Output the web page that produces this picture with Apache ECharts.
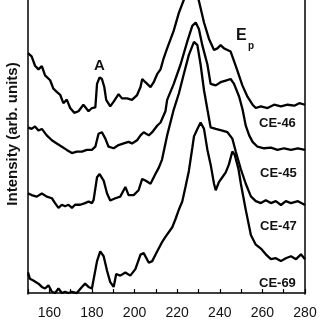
<!DOCTYPE html>
<html><head><meta charset="utf-8">
<script src="https://cdn.jsdelivr.net/npm/echarts@6/dist/echarts.min.js"></script>
<style>html,body{margin:0;padding:0;background:#fff}#c{width:320px;height:320px}</style>
</head><body><div id="c"></div>
<script>
// Wavenumber-like x values and intensities (arb. units) for each spectrum
const ce46 = [[150,248],[151.7,244.7],[153.3,235],[154.9,231.3],[156.5,234.7],[158,225],[160.4,220],[161.9,211.3],[163.5,208],[165.1,205],[166.6,196.3],[168.2,200],[169.8,191.3],[171.7,186.3],[173.7,188],[176,194.7],[178.4,188],[180,191.3],[181.6,192],[182.4,216.3],[183.6,223],[184.7,221.3],[185.8,213],[186.7,199.7],[188.6,193],[190.2,198],[192.5,205.7],[194.1,201.3],[196.5,201.3],[198.8,199.7],[201.2,204.7],[202.8,213],[203.6,221.3],[205.1,218],[207.5,213],[209,218],[210.6,226.3],[212.2,231.3],[213.7,243],[215.3,253],[218.4,271.3],[220.8,289.7],[223.1,303],[226.3,318],[230.1,303],[232.6,279.7],[234.9,263],[237.3,251.3],[238.9,253],[240.4,256.3],[242,253],[243.6,251.3],[245.1,249.7],[246.7,239.7],[248.3,229.7],[250.6,214.7],[253,203],[255.4,194.7],[256.9,191.3],[259.3,193],[262.4,191.3],[265.5,194.7],[268.7,193],[271.8,194.7],[275,193.7],[277.3,196.3],[280,194.7]];
const ce45 = [[150,171.3],[151.7,169.7],[153.3,172.3],[154.9,168],[156.5,169.7],[158.8,163],[161.2,158],[163.5,154.7],[165.9,151.3],[168.2,148],[170.6,144.7],[172.9,146.3],[175.3,146.3],[177.6,148],[180,148],[181.6,151.3],[183.1,164.7],[184.7,166.3],[186.3,159.7],[187.8,151.3],[190.2,149.7],[192.5,153],[194.9,154.7],[197.2,156.3],[198.8,154.7],[201.2,158],[202.8,163],[204.3,166.3],[206.7,163],[208.3,166.3],[210.6,173],[212.2,176.3],[214.5,188],[215.3,199.7],[218.4,216.3],[221.6,236.3],[224.7,259.7],[227.1,276.3],[228.7,279.7],[230.2,273],[231.8,256.3],[234.2,236.3],[235.7,216.3],[238.1,214.7],[240.4,218],[242.8,219.7],[245.1,221.3],[246.7,216.3],[249.1,203],[250.7,189.7],[252.2,173],[253.8,163],[255.4,156.3],[257.7,151.3],[260.8,149.7],[264,150.3],[267.1,148],[270.2,149.7],[273.4,148],[276.6,149.7],[280,148]];
const ce47 = [[150,103],[151.7,101.3],[154.1,99.7],[156.5,103],[158.8,99.7],[161.2,98],[162.7,93],[164.3,88],[165.9,91.3],[167.4,89.7],[169,91.3],[170.6,88],[172.1,91.3],[174.5,91.3],[176.8,93],[178.4,94.7],[180,93],[180.8,96.3],[182.4,119.7],[183.6,123],[185.5,116.3],[187.1,103],[188.6,95.7],[191,98],[193.3,99.7],[195.7,109.7],[197.2,101.3],[199.6,101.3],[201.9,106.3],[203.6,118],[205.1,116.3],[207.5,113],[209.8,123],[211.4,129.7],[212.9,138],[215.3,163],[218.4,189.7],[220.8,206.3],[223.1,226.3],[225.5,246.3],[227.9,259.7],[229.5,256.3],[231,236.3],[232.6,209.7],[234.2,189.7],[235.7,171.3],[238.1,169.7],[241.2,168],[243.6,166.3],[245.9,159.7],[247.5,146.3],[249.9,128],[252.2,113],[254.6,100],[256.9,95],[259.3,93],[261.6,96],[264,93],[266.3,95],[268.7,91],[271,95],[273.4,93],[276.7,95],[280,91]];
const ce69 = [[150,21.3],[150.9,14.7],[152.5,13],[154.9,9.7],[156.5,6.3],[158,4.7],[159.6,8],[161.2,1.3],[162.7,0],[164.3,4.7],[165.9,0],[167.4,1.3],[169,0],[170.6,1.3],[172.9,0],[175.3,6.3],[176.8,9.7],[178.4,6.3],[180,4.7],[180.8,6.3],[182.4,33],[183.9,43],[185.5,38],[187.1,23],[188.6,11.3],[190.2,6.3],[191.4,19.7],[193.3,18],[195.7,21.3],[198,18],[200.4,24.7],[202.8,39.7],[204.3,41.3],[206.7,31.3],[208.3,33],[210.6,43],[213,53],[214.5,58],[217.7,68],[219.2,76.3],[220.8,86.3],[222.4,94.7],[223.9,109.7],[225.5,126.3],[227.1,150],[227.9,162],[229.5,169.7],[231,176.3],[232.6,169.7],[234.2,148],[235.7,133],[237.3,113],[238.1,106.3],[239.6,114.7],[241.2,119.7],[242.8,124.7],[244.3,133],[245.9,146.3],[247,143],[248.8,128],[249.9,113],[252.2,86],[254.6,60],[256.9,50],[259.3,46],[261.6,40],[264,35],[266.3,36],[268.7,33],[271,36],[273.4,38],[275.8,35],[278.1,40],[280,35]];
const seriesNames = ['CE-46','CE-45','CE-47','CE-69'];
const xTickLabels = [160,180,200,220,240,260,280];
const yTitle = 'Intensity (arb. units)';

const chart = echarts.init(document.getElementById('c'), null, {renderer:'canvas'});
const lineStyle = {color:'#000', width:2.3};
const mk = (name, data) => ({name, type:'line', data, showSymbol:false, symbol:'none', lineStyle, clip:true, z:3, animation:false});
const font = 'Liberation Sans, Arial, sans-serif';
const lbl = (text, x, y, size) => ({type:'text', left:x, top:y, z:10, style:{text, font:'bold '+size+'px '+font, fill:'#111'}});
chart.setOption({
  animation:false,
  grid:{left:28, right:15, top:0, bottom:16},
  xAxis:{type:'value', min:150, max:280, interval:10,
    axisLine:{show:true, lineStyle:{color:'#000', width:1.5}},
    axisTick:{show:true, inside:true, length:4, lineStyle:{color:'#000', width:1.2}},
    axisLabel:{margin:12, fontSize:14, color:'#111', fontFamily:font,
      formatter:v => xTickLabels.includes(v) ? String(v) : ''},
    splitLine:{show:false}},
  yAxis:[{type:'value', min:-1, max:303,
    axisLine:{show:true, lineStyle:{color:'#000', width:1.5}},
    axisTick:{show:false}, axisLabel:{show:false}, splitLine:{show:false}},
   {type:'value', min:-1, max:303, position:'right',
    axisLine:{show:true, lineStyle:{color:'#000', width:1.5}},
    axisTick:{show:false}, axisLabel:{show:false}, splitLine:{show:false}}],
  series:[mk(seriesNames[0], ce46), mk(seriesNames[1], ce45), mk(seriesNames[2], ce47), mk(seriesNames[3], ce69)],
  graphic:[
    {type:'text', x:13, y:134, rotation:Math.PI/2,
      style:{text:yTitle, font:'bold 15px '+font, fill:'#111', align:'center', verticalAlign:'middle'}},
    lbl('A', 94, 58, 15),
    lbl('E', 236, 28, 16),
    lbl('p', 248, 41, 10),
    lbl(seriesNames[0], 259, 117, 13),
    lbl(seriesNames[1], 260, 167, 13),
    lbl(seriesNames[2], 260, 220, 13),
    lbl(seriesNames[3], 259, 277, 13)
  ]
});
</script></body></html>
